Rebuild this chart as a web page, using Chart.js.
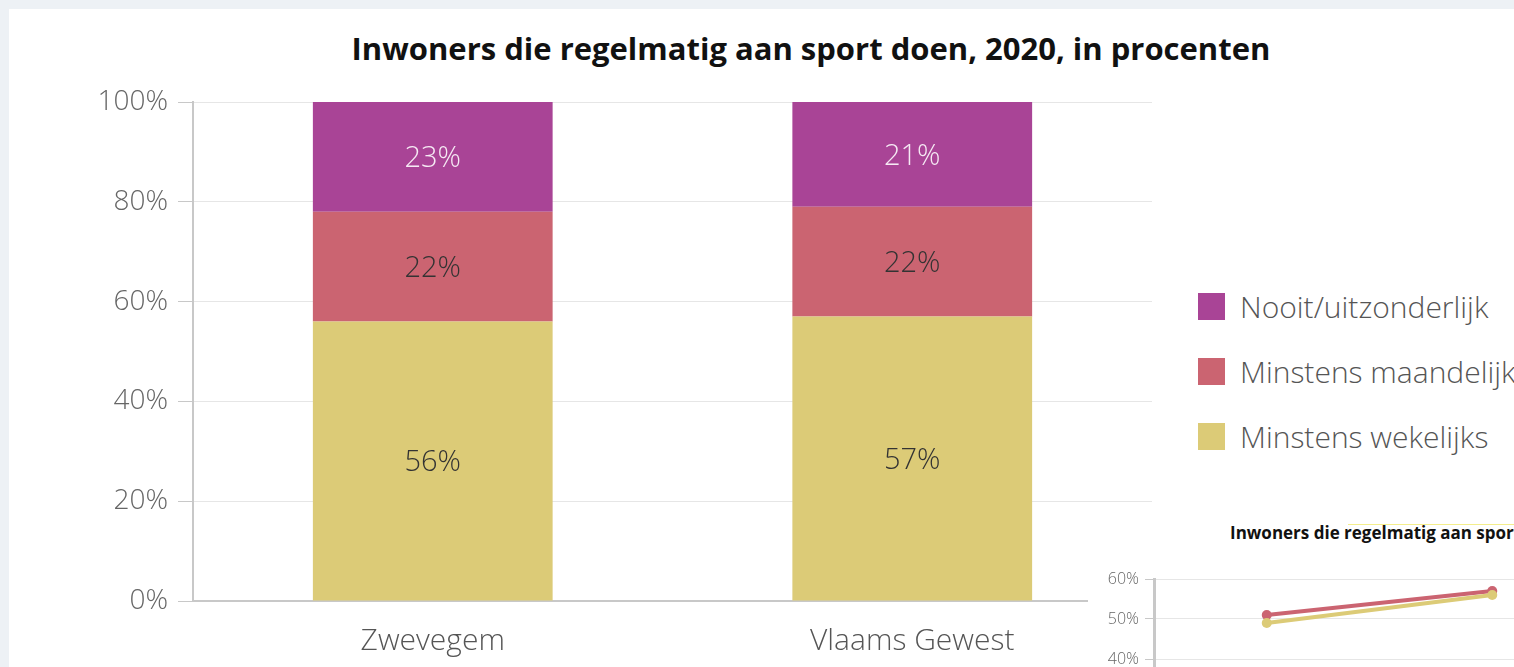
<!DOCTYPE html>
<html lang="nl">
<head>
<meta charset="utf-8">
<title>Inwoners die regelmatig aan sport doen, 2020</title>
<script src="https://cdn.jsdelivr.net/npm/chart.js@4.4.1/dist/chart.umd.min.js"></script>
<style>
  html, body {
    margin: 0;
    padding: 0;
    width: 1514px;
    height: 667px;
    overflow: hidden;
    background: #edf1f5;
    font-family: "Open Sans", sans-serif;
  }
  .card {
    position: absolute;
    left: 9px;
    top: 9px;
    width: 1700px;
    height: 700px;
    background: #fff;
  }
  .main-title {
    position: absolute;
    left: 0;
    top: 27px;
    width: 1622px;
    text-align: center;
    font-size: 31px;
    font-weight: 700;
    line-height: 42px;
    color: #111;
  }
  #mainWrap {
    position: absolute;
    left: 0;
    top: 0;
    width: 1160px;
    height: 667px;
  }
  #legend {
    position: absolute;
    left: 1198px;
    top: 293px;
    white-space: nowrap;
  }
  .legend-item {
    display: flex;
    align-items: center;
    height: 27px;
    margin-bottom: 38px;
    font-size: 30px;
    font-weight: 300;
    color: #555;
  }
  .legend-box {
    width: 27px;
    height: 27px;
    margin-right: 15px;
    flex: none;
  }
  .trend-card {
    position: absolute;
    left: 1088px;
    top: 512px;
    width: 700px;
    height: 300px;
    background: #fff;
  }
  .trend-mark {
    position: absolute;
    left: 1348px;
    top: 524px;
    width: 300px;
    height: 1px;
    background: #f4ee8c;
  }
  .trend-title {
    position: absolute;
    left: 1230px;
    top: 521px;
    font-size: 17px;
    font-weight: 700;
    line-height: 24px;
    color: #111;
    white-space: nowrap;
  }
  #trendWrap {
    position: absolute;
    left: 1088px;
    top: 560px;
    width: 522px;
    height: 320px;
  }
</style>
</head>
<body>
<div class="card"></div>
<div class="main-title">Inwoners die regelmatig aan sport doen, 2020, in procenten</div>
<div id="mainWrap"><canvas id="mainChart"></canvas></div>
<div id="legend"></div>

<div class="trend-card"></div>
<div class="trend-mark"></div>
<div class="trend-title">Inwoners die regelmatig aan sport doen</div>
<div id="trendWrap"><canvas id="trendChart"></canvas></div>

<script>
// main chart data (2020, percentages)
const regions = ["Zwevegem", "Vlaams Gewest"];
const weekly = [56, 57];
const monthly = [22, 22];
const never = [23, 21];
const percentTicks = [0, 20, 40, 60, 80, 100];

// small trend chart (only the visible part)
const trendYears = ["2017", "2020"];
const trendZwevegem = [49, 56];
const trendVlaams = [51, 57];

const COLORS = {
  weekly: "#dccb77",
  monthly: "#cb6471",
  never: "#a94496"
};

const barLabels = {
  id: "barLabels",
  afterDatasetsDraw(chart) {
    const { ctx, chartArea } = chart;
    ctx.save();
    ctx.font = "300 29px 'Open Sans'";
    ctx.textAlign = "center";
    ctx.textBaseline = "middle";

    chart.data.datasets.forEach((ds, i) => {
      chart.getDatasetMeta(i).data.forEach((bar, j) => {
        const top = Math.max(bar.y, chartArea.top);
        const bottom = Math.min(bar.base, chartArea.bottom);
        ctx.fillStyle = ds.labelColor;
        ctx.fillText(ds.data[j] + "%", bar.x, (top + bottom) / 2 + 2);
      });
    });

    ctx.restore();
  }
};

function renderMainChart() {
  const datasets = [
    { label: "Minstens wekelijks", data: weekly, backgroundColor: COLORS.weekly, labelColor: "#333" },
    { label: "Minstens maandelijk", data: monthly, backgroundColor: COLORS.monthly, labelColor: "#333" },
    { label: "Nooit/uitzonderlijk", data: never, backgroundColor: COLORS.never, labelColor: "#f6eaf4" }
  ];

  new Chart(document.getElementById("mainChart"), {
    type: "bar",
    data: { labels: regions, datasets: datasets },
    options: {
      responsive: true,
      maintainAspectRatio: false,
      animation: false,
      layout: { padding: { top: 102, right: 8, left: 0, bottom: 0 } },
      datasets: {
        bar: {
          barPercentage: 0.5,
          categoryPercentage: 1,
          borderWidth: 0,
          clip: 0
        }
      },
      plugins: {
        legend: { display: false },
        tooltip: { enabled: false }
      },
      scales: {
        x: {
          stacked: true,
          grid: { display: false },
          border: { display: true, color: "#c8c8c8", width: 2 },
          ticks: {
            padding: 14,
            color: "#555",
            font: { family: "Open Sans", size: 30, weight: 300 }
          },
          afterFit(scale) {
            scale.height = 66;
          }
        },
        y: {
          stacked: true,
          min: 0,
          max: 100,
          afterBuildTicks(scale) {
            scale.ticks = percentTicks.map(v => ({ value: v }));
          },
          grid: { color: "#e6e6e6", tickColor: "#c8c8c8", tickLength: 15 },
          border: { display: true, color: "#c8c8c8", width: 2 },
          ticks: {
            padding: 10,
            color: "#666",
            font: { family: "Open Sans", size: 28, weight: 300 },
            callback: value => value + "%"
          },
          afterFit(scale) {
            scale.width = 193;
          }
        }
      }
    },
    plugins: [barLabels]
  });

  renderLegend(datasets.slice().reverse());
}

function renderLegend(items) {
  const container = document.getElementById("legend");
  container.innerHTML = "";

  items.forEach(item => {
    const row = document.createElement("div");
    row.className = "legend-item";
    row.innerHTML = `
      <span class="legend-box" style="background:${item.backgroundColor}"></span>
      <span>${item.label}</span>
    `;
    container.appendChild(row);
  });
}

function renderTrendChart() {
  new Chart(document.getElementById("trendChart"), {
    type: "line",
    data: {
      labels: trendYears,
      datasets: [
        {
          label: "Zwevegem",
          data: trendZwevegem,
          borderColor: COLORS.weekly,
          backgroundColor: COLORS.weekly,
          borderWidth: 4,
          pointRadius: 5,
          pointBorderWidth: 0
        },
        {
          label: "Vlaams Gewest",
          data: trendVlaams,
          borderColor: COLORS.monthly,
          backgroundColor: COLORS.monthly,
          borderWidth: 4,
          pointRadius: 5,
          pointBorderWidth: 0
        }
      ]
    },
    options: {
      responsive: true,
      maintainAspectRatio: false,
      animation: false,
      layout: { padding: { top: 19, right: 0, left: 0, bottom: 0 } },
      plugins: {
        legend: { display: false },
        tooltip: { enabled: false }
      },
      scales: {
        x: {
          offset: true,
          grid: { display: false },
          border: { display: true, color: "#c8c8c8", width: 2 },
          ticks: { color: "#555", font: { family: "Open Sans", size: 16 } },
          afterFit(scale) {
            scale.height = 61;
          }
        },
        y: {
          min: 0,
          max: 60,
          ticks: {
            stepSize: 10,
            padding: 6,
            color: "#666",
            font: { family: "Open Sans", size: 16, weight: 300 },
            callback: value => value + "%"
          },
          grid: { color: "#e6e6e6", tickColor: "#c8c8c8", tickLength: 9 },
          border: { display: true, color: "#c8c8c8", width: 3 },
          afterFit(scale) {
            scale.width = 66;
          }
        }
      }
    }
  });
}

renderMainChart();
renderTrendChart();
</script>
</body>
</html>
